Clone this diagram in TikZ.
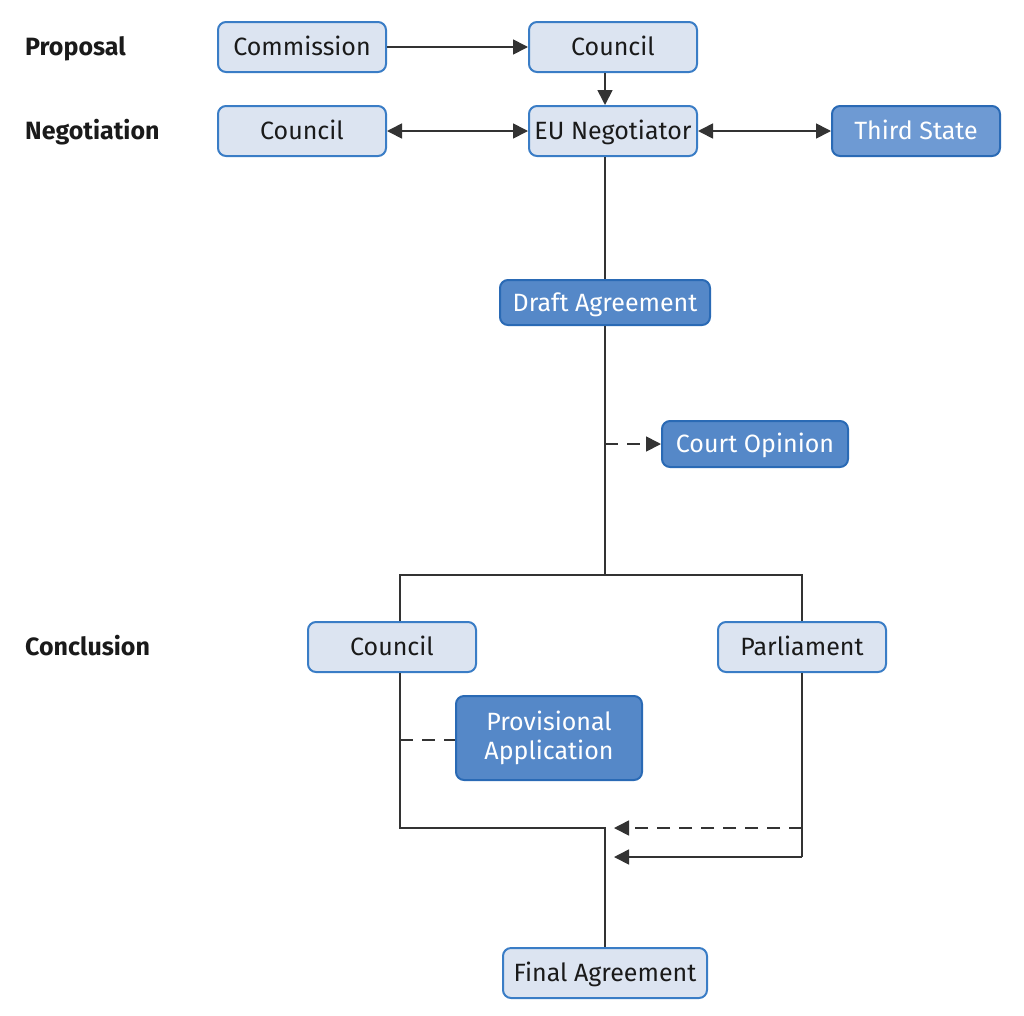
\documentclass[tikz,border=0pt]{standalone}
\usepackage{fontspec}
\setmainfont{Fira Sans}
\usetikzlibrary{arrows.meta}
\definecolor{lightfill}{HTML}{DCE4F1}
\definecolor{boxborder}{HTML}{3A7DC6}
\definecolor{darkfill}{HTML}{5588C8}
\definecolor{darkborder}{HTML}{2A6AB5}
\definecolor{thirdfill}{HTML}{6E9AD3}
\definecolor{linecol}{HTML}{333333}
\definecolor{txt}{HTML}{1A1A1A}
\begin{document}
\begin{tikzpicture}[x=1pt,y=-1pt,
  base/.style={rounded corners=8pt, line width=2pt, inner sep=0pt,
    font=\fontsize{25}{30}\selectfont, align=center, text height=22pt, text depth=5pt},
  lightbox/.style={base, draw=boxborder, fill=lightfill, text=txt},
  darkbox/.style={base, draw=darkborder, fill=darkfill, text=white},
  stage/.style={anchor=west, font=\fontsize{25}{30}\selectfont\bfseries, text=txt, inner sep=0pt, text height=22pt, text depth=5pt},
  conn/.style={draw=linecol, line width=1.7pt},
  tip/.style={-{Triangle[length=15pt,width=15pt]}},
  dtip/.style={{Triangle[length=15pt,width=15pt]}-{Triangle[length=15pt,width=15pt]}},
  dashline/.style={dash pattern=on 13pt off 9pt}
]
\useasboundingbox (0,0) rectangle (1024,1015);
% stage labels
\node[stage] (lprop) at (25,47) {Proposal};
\node[stage] (lneg) at (25,131) {Negotiation};
\node[stage] (lconc) at (25,647) {Conclusion};
% boxes
\node[lightbox, minimum width=168pt, minimum height=50pt] (commission) at (302,47) {Commission};
\node[lightbox, minimum width=168pt, minimum height=50pt] (council1) at (613,47) {Council};
\node[lightbox, minimum width=168pt, minimum height=50pt] (council2) at (302,131) {Council};
\node[lightbox, minimum width=168pt, minimum height=50pt] (eun) at (613,131) {EU Negotiator};
\node[base, draw=darkborder, fill=thirdfill, text=white, minimum width=168pt, minimum height=50pt] (third) at (916,131) {Third State};
\node[darkbox, minimum width=210pt, minimum height=45pt] (draft) at (605,302.5) {Draft Agreement};
\node[darkbox, minimum width=186pt, minimum height=46pt] (court) at (755,444) {Court Opinion};
\node[lightbox, minimum width=168pt, minimum height=50pt] (council3) at (392,647) {Council};
\node[lightbox, minimum width=168pt, minimum height=50pt] (parl) at (802,647) {Parliament};
\node[darkbox, minimum width=186pt, minimum height=84pt, text height=, text depth=] (prov) at (549,738) {Provisional\\[-1pt]Application};
\node[lightbox, minimum width=204pt, minimum height=50pt] (final) at (605,973) {Final Agreement};
% helper coordinates
\coordinate (split) at (605,575);
\coordinate (cl) at (400,575);
\coordinate (cr) at (802,575);
\coordinate (join) at (605,828);
\coordinate (lb) at (400,828);
\coordinate (rdash) at (802,828);
\coordinate (rsolid) at (802,857);
\coordinate (tipdash) at (614,828);
\coordinate (tipsolid) at (614,857);
\coordinate (courtsrc) at (605,444);
\coordinate (provsrc) at (400,740);
% connectors
\draw[conn, tip] (commission.east) -- (council1.west);
\draw[conn, tip] (council1.south -| split) -- (eun.north -| split);
\draw[conn, dtip] (council2.east) -- (eun.west);
\draw[conn, dtip] (eun.east) -- (third.west);
\draw[conn] (eun.south -| split) -- (draft.north -| split);
\draw[conn] (draft.south -| split) -- (split);
\draw[conn, tip, dashline] (courtsrc) -- (court.west);
\draw[conn] (council3.north -| cl) -- (cl) -- (cr) -- (parl.north -| cr);
\draw[conn] (council3.south -| lb) -- (lb) -- (join) -- (final.north -| join);
\draw[conn, dashline] (provsrc) -- (prov.west |- provsrc);
\draw[conn] (parl.south -| rsolid) -- (rsolid);
\draw[conn, tip] (rsolid) -- (tipsolid);
\draw[conn, tip, dashline] (rdash) -- (tipdash);
\end{tikzpicture}
\end{document}
